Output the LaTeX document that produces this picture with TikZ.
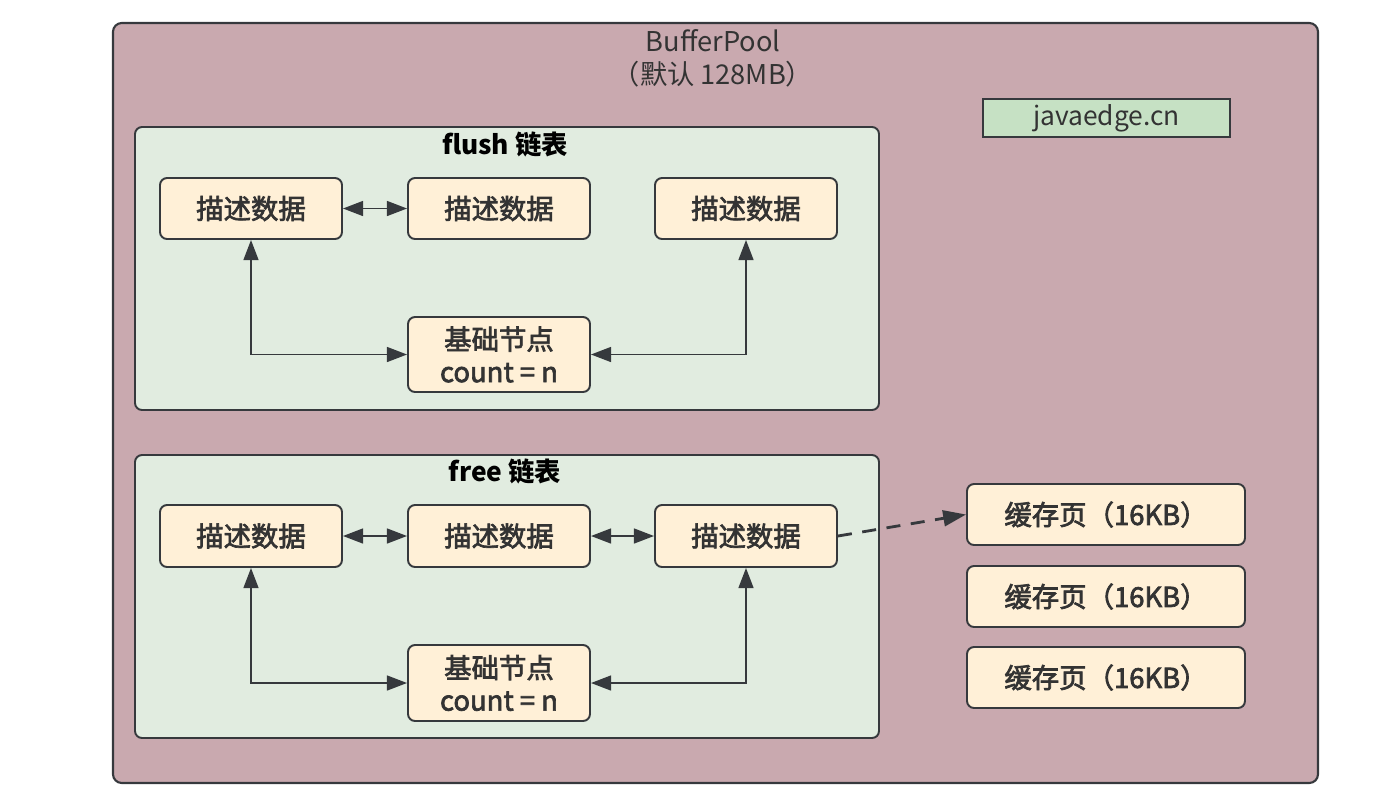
\documentclass[tikz,border=0pt]{standalone}
\usepackage{fontspec}
\setmainfont{Noto Sans CJK SC}
\newfontfamily\medfont[FakeBold=2.5]{Noto Sans CJK SC}
\usetikzlibrary{arrows.meta}
\definecolor{outerc}{HTML}{C9A9AF}
\definecolor{groupc}{HTML}{E1ECE0}
\definecolor{nodec}{HTML}{FFF0D7}
\definecolor{tagc}{HTML}{C6E1C4}
\definecolor{linec}{HTML}{36393D}
\definecolor{textc}{HTML}{333333}
\tikzset{
  outerbox/.style={draw=linec, line width=1.2pt, fill=outerc, rounded corners=5pt},
  groupbox/.style={draw=linec, line width=1.1pt, fill=groupc, rounded corners=4pt},
  itembox/.style={draw=linec, line width=1.1pt, fill=nodec, rounded corners=4pt, text=textc,
    font=\medfont\fontsize{15.6}{18.5}\selectfont, align=center, inner sep=0pt},
  tagbox/.style={draw=linec, line width=1.1pt, fill=tagc, text=textc, font=\fontsize{15}{18}\selectfont, inner sep=0pt},
  conn/.style={draw=linec, line width=1.1pt, {Triangle[length=11.5pt,width=8.5pt]}-{Triangle[length=11.5pt,width=8.5pt]}},
  dconn/.style={draw=linec, line width=1.6pt, dash pattern=on 8pt off 6pt, -{Triangle[length=13pt,width=9pt]}},
  gtitle/.style={text=black, font=\fontsize{15}{18}\selectfont\bfseries, inner sep=0pt},
}
\begin{document}
\begin{tikzpicture}[x=0.02cm,y=-0.02cm]
\useasboundingbox (0,0) rectangle (1376,792);
% outer
\node[outerbox, minimum width=1205*0.02cm, minimum height=760*0.02cm] (pool) at (715.5,403) {};
\node[text=textc, align=center, font=\fontsize{15.5}{19}\selectfont, inner sep=0pt] (title) at (713,58) {BufferPool\\（默认 128MB）};
\node[tagbox, minimum width=247*0.02cm, minimum height=38*0.02cm] (tag) at (1106.5,118) {javaedge.cn};
% groups
\node[groupbox, minimum width=744*0.02cm, minimum height=283*0.02cm] (flush) at (507,268.5) {};
\node[gtitle] (flusht) at (505,144) {flush 链表};
\node[groupbox, minimum width=744*0.02cm, minimum height=283*0.02cm] (free) at (507,596.5) {};
\node[gtitle] (freet) at (505,471) {free 链表};
% flush items
\node[itembox, minimum width=182*0.02cm, minimum height=61*0.02cm] (a1) at (251,208.5) {描述数据};
\node[itembox, minimum width=182*0.02cm, minimum height=61*0.02cm] (a2) at (499,208.5) {描述数据};
\node[itembox, minimum width=182*0.02cm, minimum height=61*0.02cm] (a3) at (746,208.5) {描述数据};
\node[itembox, minimum width=182*0.02cm, minimum height=75*0.02cm] (ab) at (499,354.5) {基础节点\\count = n};
% free items
\node[itembox, minimum width=182*0.02cm, minimum height=62*0.02cm] (f1) at (251,536) {描述数据};
\node[itembox, minimum width=182*0.02cm, minimum height=62*0.02cm] (f2) at (499,536) {描述数据};
\node[itembox, minimum width=182*0.02cm, minimum height=62*0.02cm] (f3) at (746,536) {描述数据};
\node[itembox, minimum width=182*0.02cm, minimum height=76*0.02cm] (fb) at (499,683) {基础节点\\count = n};
% cache pages
\node[itembox, minimum width=278*0.02cm, minimum height=61*0.02cm] (c1) at (1106,514.5) {缓存页（16KB）};
\node[itembox, minimum width=278*0.02cm, minimum height=61*0.02cm] (c2) at (1106,596.5) {缓存页（16KB）};
\node[itembox, minimum width=278*0.02cm, minimum height=61*0.02cm] (c3) at (1106,677.5) {缓存页（16KB）};
% connectors flush
\draw[conn] (a1) -- (a2);
\draw[conn] (ab.west) -| (a1.south);
\draw[conn] (ab.east) -| (a3.south);
% connectors free
\draw[conn] (f1) -- (f2);
\draw[conn] (f2) -- (f3);
\draw[conn] (fb.west) -| (f1.south);
\draw[conn] (fb.east) -| (f3.south);
\draw[dconn] (f3.east) -- (c1.west);
\end{tikzpicture}
\end{document}
